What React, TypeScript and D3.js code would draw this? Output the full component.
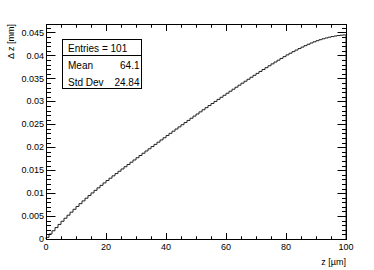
import React from 'react';
import * as d3 from 'd3';

// Histogram: 100 bins on z in [0, 100] µm, bin contents Δz in mm
const binLow = 0;
const binHigh = 100;
const binContents = [
  0.00036, 0.00108, 0.00179, 0.00249, 0.00318, 0.00386, 0.00453, 0.00519, 0.00584, 0.00647,
  0.00709, 0.00770, 0.00830, 0.00889, 0.00947, 0.01004, 0.01060, 0.01115, 0.01169, 0.01222,
  0.01274, 0.01325, 0.01376, 0.01426, 0.01476, 0.01526, 0.01575, 0.01624, 0.01673, 0.01722,
  0.01771, 0.01820, 0.01869, 0.01918, 0.01966, 0.02014, 0.02062, 0.02110, 0.02158, 0.02206,
  0.02254, 0.02302, 0.02349, 0.02396, 0.02443, 0.02490, 0.02537, 0.02584, 0.02631, 0.02678,
  0.02724, 0.02770, 0.02816, 0.02862, 0.02908, 0.02953, 0.02998, 0.03043, 0.03088, 0.03132,
  0.03176, 0.03220, 0.03264, 0.03308, 0.03352, 0.03395, 0.03438, 0.03481, 0.03524, 0.03567,
  0.03609, 0.03651, 0.03693, 0.03734, 0.03775, 0.03816, 0.03856, 0.03896, 0.03935, 0.03974,
  0.04012, 0.04048, 0.04083, 0.04117, 0.04150, 0.04182, 0.04213, 0.04243, 0.04271, 0.04297,
  0.04321, 0.04343, 0.04363, 0.04381, 0.04397, 0.04411, 0.04423, 0.04433, 0.04441, 0.04447,
];

const xMajorTicks = [0, 20, 40, 60, 80, 100];
const xTickLabels = ['0', '20', '40', '60', '80', '100'];
const xMinorStep = 5;
const yMajorTicks = [0, 0.005, 0.01, 0.015, 0.02, 0.025, 0.03, 0.035, 0.04, 0.045];
const yTickLabels = ['0', '0.005', '0.01', '0.015', '0.02', '0.025', '0.03', '0.035', '0.04', '0.045'];
const yMinorStep = 0.001;
const yMax = 0.04685;

const xTitle = 'z [µm]';
const yTitle = 'Δ z [mm]';

const statsTitle = 'Entries = 101';
const statsLabels = ['Mean', 'Std Dev'];
const statsValues = ['64.1', '24.84'];

const FONT = '"Liberation Sans", Arial, Helvetica, sans-serif';

export default function App() {
  const W = 374;
  const H = 270;
  const left = 46, right = 346, top = 24, bottom = 239;
  const x = d3.scaleLinear().domain([binLow, binHigh]).range([left, right]);
  const y = d3.scaleLinear().domain([0, yMax]).range([bottom, top]);

  const nb = binContents.length;
  const bw = (binHigh - binLow) / nb;
  const pts: [number, number][] = [[binLow, 0]];
  binContents.forEach((v, i) => pts.push([binLow + i * bw, v]));
  pts.push([binHigh, binContents[nb - 1]]);
  pts.push([binHigh, 0]);
  const line = d3
    .line<[number, number]>()
    .x((d) => x(d[0]))
    .y((d) => y(d[1]))
    .curve(d3.curveStepAfter);

  const xMinor: number[] = [];
  for (let v = binLow; v <= binHigh + 1e-9; v += xMinorStep) xMinor.push(v);
  const yMinor: number[] = [];
  for (let k = 0; k * yMinorStep <= yMax + 1e-12; k++) yMinor.push(k * yMinorStep);

  const xMajLen = 6.5, xMinLen = 3.2;
  const yMajLen = 9, yMinLen = 4.5;
  const c = (v: number) => Math.round(v) + 0.5;

  const statsL = 62, statsR = 141, statsT = 39, statsSep = 55, statsB = 88;
  const axisFont = 9;

  return (
    <svg
      width={W}
      height={H}
      style={{ position: 'absolute', left: 0, top: 0, background: '#fff' }}
      fontFamily={FONT}
    >
      <rect x={0} y={0} width={W} height={H} fill="#fff" />
      {/* histogram */}
      <path d={line(pts) || ''} fill="none" stroke="#222" strokeWidth={1} />
      {/* frame */}
      <rect x={c(left)} y={c(top)} width={right - left} height={bottom - top} fill="none" stroke="#000" strokeWidth={1} />
      {/* ticks */}
      <g stroke="#000" strokeWidth={1}>
        {xMinor.map((v, i) => {
          const isMaj = xMajorTicks.some((m) => Math.abs(m - v) < 1e-9);
          const len = isMaj ? xMajLen : xMinLen;
          const px = c(x(v));
          return (
            <g key={'xm' + i}>
              <line x1={px} x2={px} y1={c(bottom)} y2={c(bottom) - len} />
              <line x1={px} x2={px} y1={c(top)} y2={c(top) + len} />
            </g>
          );
        })}
        {yMinor.map((v, i) => {
          const isMaj = yMajorTicks.some((m) => Math.abs(m - v) < 1e-9);
          const len = isMaj ? yMajLen : yMinLen;
          const py = c(y(v));
          return (
            <g key={'ym' + i}>
              <line x1={c(left)} x2={c(left) + len} y1={py} y2={py} />
              <line x1={c(right)} x2={c(right) - len} y1={py} y2={py} />
            </g>
          );
        })}
      </g>
      {/* x labels */}
      <g fontSize={axisFont} fill="#000" textAnchor="middle">
        {xMajorTicks.map((v, i) => (
          <text key={'xl' + i} x={x(v)} y={250}>
            {xTickLabels[i]}
          </text>
        ))}
      </g>
      {/* y labels */}
      <g fontSize={axisFont} fill="#000" textAnchor="end">
        {yMajorTicks.map((v, i) => (
          <text key={'yl' + i} x={44} y={y(v)} dy="0.35em">
            {yTickLabels[i]}
          </text>
        ))}
      </g>
      {/* titles */}
      <text x={right} y={265} fontSize={axisFont} textAnchor="end" fill="#000">
        {xTitle}
      </text>
      <text
        transform={`translate(14,${top}) rotate(-90)`}
        fontSize={axisFont}
        textAnchor="end"
        fill="#000"
      >
        {yTitle}
      </text>
      {/* stats box */}
      <rect
        x={c(statsL)}
        y={c(statsT)}
        width={statsR - statsL}
        height={statsB - statsT}
        fill="#fff"
        stroke="#000"
        strokeWidth={1}
      />
      <line x1={c(statsL)} x2={c(statsR)} y1={c(statsSep)} y2={c(statsSep)} stroke="#000" strokeWidth={1} />
      <text x={68} y={51.5} fontSize={10} fill="#000">
        {statsTitle}
      </text>
      {statsLabels.map((lab, i) => (
        <g key={'st' + i} fontSize={10} fill="#000">
          <text x={68} y={68.5 + i * 17}>{lab}</text>
          <text x={139.5} y={68.5 + i * 17} textAnchor="end">
            {statsValues[i]}
          </text>
        </g>
      ))}
    </svg>
  );
}
